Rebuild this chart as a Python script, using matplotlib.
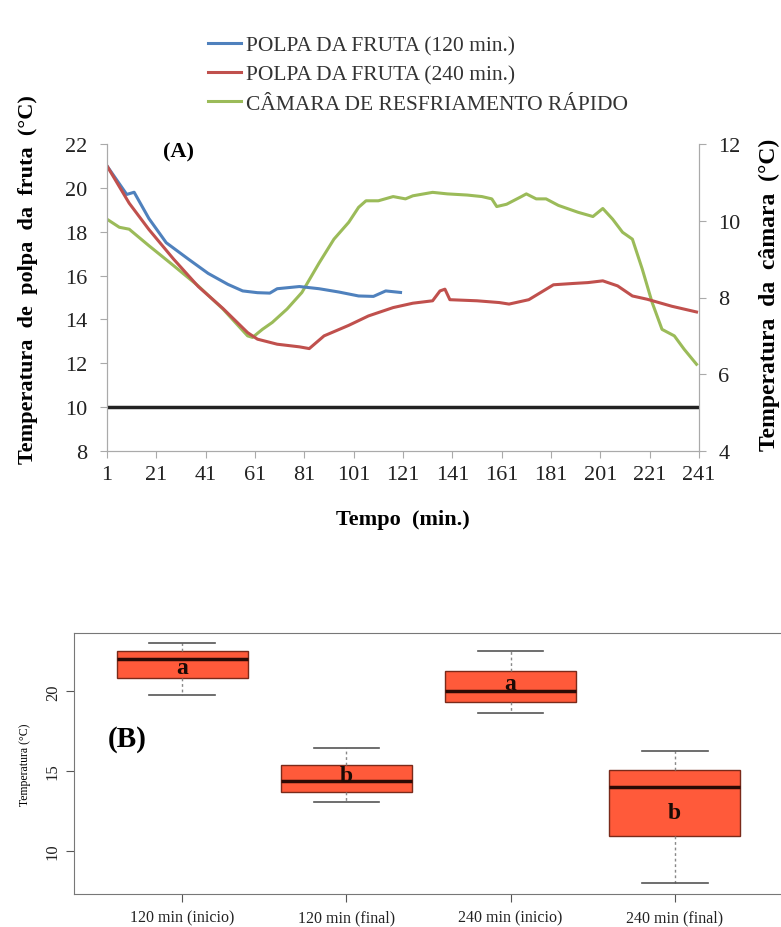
import numpy as np
import matplotlib
matplotlib.use("Agg")
import matplotlib.pyplot as plt

plt.rcParams['font.family'] = ['Liberation Serif', 'DejaVu Serif']

# --- panel A: temperature curves (minute, temperature) ---
t_120 = [1, 9, 12, 18, 25, 34, 42, 50, 56, 62, 67, 70, 79, 87, 95, 103, 109, 114, 120]
polpa_120 = [21.0, 19.7, 19.8, 18.6, 17.5, 16.75, 16.1, 15.6, 15.3, 15.22, 15.2, 15.4, 15.5,
             15.4, 15.25, 15.07, 15.05, 15.3, 15.23]

t_240 = [1, 10, 18, 28, 38, 48, 58, 62, 70, 79, 83, 89, 99, 107, 117, 125, 133, 136, 138,
         140, 151, 160, 164, 172, 182, 190, 196, 202, 208, 214, 220, 230, 240]
polpa_240 = [21.0, 19.3, 18.1, 16.75, 15.5, 14.5, 13.4, 13.1, 12.87, 12.75, 12.67, 13.25,
             13.73, 14.16, 14.54, 14.74, 14.85, 15.3, 15.38, 14.9, 14.85, 14.77, 14.7, 14.9,
             15.58, 15.64, 15.68, 15.76, 15.53, 15.07, 14.92, 14.6, 14.34]

t_cam = [1, 6, 10, 18, 28, 38, 48, 58, 60, 64, 68, 74, 80, 87, 93, 99, 103, 106, 111, 117,
         122, 125, 133, 139, 147, 153, 157, 159, 163, 169, 171, 175, 179, 184, 192, 198,
         202, 206, 210, 214, 218, 222, 226, 231, 235, 240]
camara = [10.04, 9.83, 9.78, 9.35, 8.83, 8.3, 7.7, 7.0, 6.96, 7.17, 7.35, 7.7, 8.13, 8.9,
          9.52, 9.96, 10.35, 10.52, 10.52, 10.63, 10.57, 10.65, 10.74, 10.7, 10.67, 10.63,
          10.57, 10.37, 10.43, 10.63, 10.7, 10.57, 10.57, 10.4, 10.22, 10.11, 10.32, 10.04,
          9.7, 9.52, 8.74, 7.87, 7.17, 7.0, 6.65, 6.26]

limite = 10

# --- panel B: boxplot stats ---
grupos = ['120 min (inicio)', '120 min (final)', '240 min (inicio)', '240 min (final)']
whislo = [19.75, 13.08, 18.64, 7.95]
q1 = [20.86, 13.67, 19.33, 10.94]
med = [22.03, 14.36, 20.02, 13.98]
q3 = [22.56, 15.39, 21.28, 15.09]
whishi = [23.04, 16.44, 22.54, 16.25]
letras = ['a', 'b', 'a', 'b']
letra_y = [21.53, 14.72, 20.48, 12.41]

W, H = 781, 928
fig = plt.figure(figsize=(W / 100, H / 100), dpi=100)

def box(l, t, r, b):
    return [l / W, 1 - b / H, (r - l) / W, (b - t) / H]

ax = fig.add_axes(box(107, 145, 699, 452))
ax2 = ax.twinx()

blue, red, green = '#4F81BD', '#C0504D', '#9BBB59'
l3, = ax2.plot(t_cam, camara, color=green, lw=2.2)
l1, = ax.plot(t_120, polpa_120, color=blue, lw=2.2)
l2, = ax.plot(t_240, polpa_240, color=red, lw=2.2)
ax.axhline(limite, color='#222222', lw=2.5)
ax.set_zorder(ax2.get_zorder() + 1)
ax.patch.set_visible(False)

ax.set_xlim(1, 241)
ax.set_ylim(8, 22)
ax2.set_ylim(4, 12)
ax.set_xticks(np.arange(1, 242, 20))
ax.set_yticks(np.arange(8, 23, 2))
ax2.set_yticks(np.arange(4, 13, 2))
for a in (ax, ax2):
    a.spines['top'].set_visible(False)
    for s in a.spines.values():
        s.set_color('#aaaaaa')
    a.tick_params(colors='#aaaaaa', labelcolor='#222222', labelsize=16, length=5,
                  direction='out', pad=9)
ax.tick_params(axis='x', pad=5)
ax.set_xlabel('Tempo  (min.)', fontsize=16, fontweight='bold', labelpad=18)
ax.set_ylabel('Temperatura  de  polpa  da  fruta  (°C)', fontsize=16, fontweight='bold')
ax.yaxis.set_label_coords(-0.117, 0.563)
ax2.set_ylabel('Temperatura  da  câmara  (°C)', fontsize=17, fontweight='bold')
ax2.yaxis.set_label_coords(1.101, 0.511)
ax.text(29.8, 21.64, '(A)', fontsize=16, fontweight='bold', ha='center', va='center')

fig.legend([l1, l2, l3], ['POLPA DA FRUTA (120 min.)', 'POLPA DA FRUTA (240 min.)',
                         'CÂMARA DE RESFRIAMENTO RÁPIDO'],
           loc='upper left', bbox_to_anchor=(189 / W, 1 - 17 / H), frameon=False,
           fontsize=15.5, handlelength=1.5, handletextpad=0.25, labelspacing=0.42,
           labelcolor='#333333')

# --- panel B ---
bx = fig.add_axes(box(74, 634, 783, 895))
stats = []
for i in range(len(grupos)):
    stats.append({'whislo': whislo[i], 'q1': q1[i], 'med': med[i], 'q3': q3[i],
                  'whishi': whishi[i], 'fliers': []})
bx.bxp(stats, positions=range(1, 5), widths=0.8, patch_artist=True,
       boxprops=dict(facecolor='#FF5A3A', edgecolor='#7a2a1a', lw=1),
       medianprops=dict(color='#2a0a05', lw=2.5),
       whiskerprops=dict(color='#888888', lw=1, ls=(0, (2, 2))),
       capprops=dict(color='#555555', lw=1.2))
for i in range(len(grupos)):
    bx.text(i + 1, letra_y[i], letras[i], ha='center', va='center', fontsize=17,
            fontweight='bold', color='#1a0a05')
bx.text(0.667, 17.02, '(B)', ha='center', va='center', fontsize=21, fontweight='bold')
bx.set_xlim(0.34, 4.66)
bx.set_ylim(7.27, 23.67)
bx.set_yticks([10, 15, 20])
bx.set_xticks(range(1, 5))
bx.set_xticklabels(grupos)
for lab in bx.get_yticklabels():
    lab.set_rotation(90)
    lab.set_va('center')
for s in bx.spines.values():
    s.set_color('#777777')
bx.tick_params(colors='#555555', labelcolor='#222222', labelsize=12, length=6)
bx.tick_params(axis='x', labelsize=11.5, pad=5)
bx.set_ylabel('Temperatura (°C)', fontsize=8.5, labelpad=10)

fig.savefig('out.png', dpi=100)
